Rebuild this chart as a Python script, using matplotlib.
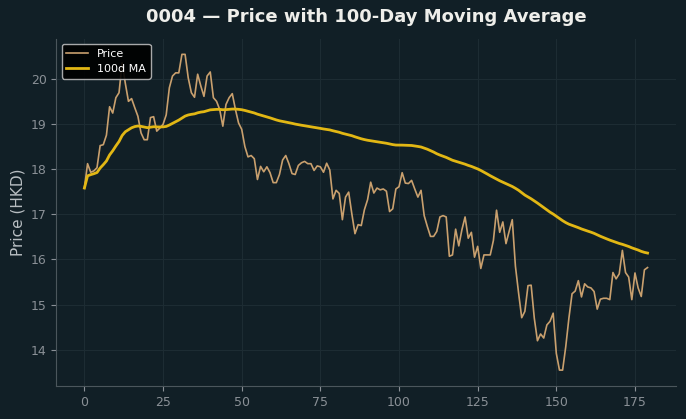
import numpy as np
import pandas as pd
import matplotlib
matplotlib.use('Agg')
import matplotlib.pyplot as plt

# daily closing price of 0004
price = [
    17.58, 18.12, 17.93, 17.96, 18.03, 18.52, 18.54, 18.75, 19.38, 19.24,
    19.58, 19.69, 20.35, 19.90, 19.50, 19.56, 19.36, 19.17, 18.80, 18.65,
    18.65, 19.14, 19.16, 18.84, 18.91, 18.99, 19.20, 19.80, 20.06, 20.13,
    20.13, 20.54, 20.54, 20.02, 19.69, 19.59, 20.10, 19.84, 19.61, 20.06,
    20.15, 19.58, 19.50, 19.32, 18.95, 19.43, 19.58, 19.67, 19.32, 19.02,
    18.88, 18.50, 18.27, 18.30, 18.23, 17.77, 18.06, 17.94, 18.05, 17.92,
    17.70, 17.70, 17.88, 18.20, 18.30, 18.12, 17.90, 17.88, 18.08, 18.14,
    18.17, 18.12, 18.12, 17.97, 18.07, 18.05, 17.93, 18.13, 17.98, 17.34,
    17.53, 17.46, 16.88, 17.38, 17.49, 17.01, 16.57, 16.77, 16.75, 17.10,
    17.32, 17.71, 17.47, 17.58, 17.54, 17.56, 17.51, 17.06, 17.12, 17.56,
    17.61, 17.92, 17.69, 17.68, 17.75, 17.56, 17.38, 17.53, 16.97, 16.73,
    16.51, 16.51, 16.62, 16.94, 16.97, 16.94, 16.07, 16.10, 16.67, 16.30,
    16.66, 16.94, 16.47, 16.60, 16.05, 16.29, 15.80, 16.10, 16.10, 16.10,
    16.42, 17.09, 16.60, 16.83, 16.35, 16.62, 16.88, 15.85, 15.26, 14.71,
    14.85, 15.42, 15.43, 14.70, 14.20, 14.35, 14.26, 14.55, 14.63, 14.81,
    13.92, 13.55, 13.55, 14.07, 14.70, 15.24, 15.30, 15.53, 15.17, 15.46,
    15.39, 15.37, 15.29, 14.90, 15.12, 15.14, 15.14, 15.11, 15.71, 15.57,
    15.68, 16.20, 15.71, 15.61, 15.11, 15.70, 15.37, 15.18, 15.77, 15.82,
]
ticker = '0004'
window = 100

s = pd.Series(price)
ma = s.rolling(window, min_periods=1).mean()

bg = '#111f26'
fig = plt.figure(figsize=(6.86, 4.19), dpi=100, facecolor=bg)
ax = fig.add_axes([0.082, 0.079, 0.903, 0.829], facecolor=bg)

ax.plot(s.index, s.values, color='#c9a06e', lw=1.2, label='Price')
ax.plot(ma.index, ma.values, color='#e2b714', lw=2.0, label=f'{window}d MA')

ax.grid(True, color='#1d2c33', lw=0.8)
ax.set_axisbelow(True)
for sp in ['top', 'right']:
    ax.spines[sp].set_visible(False)
for sp in ['left', 'bottom']:
    ax.spines[sp].set_color('#4b565c')
ax.tick_params(colors='#8a9096', labelsize=9)

ax.set_ylabel('Price (HKD)', color='#b8bec2', fontsize=11)
ax.set_title(f'{ticker} — Price with {window}-Day Moving Average',
             color='#eeeeea', fontsize=13, fontweight='bold', pad=12)

leg = ax.legend(loc='upper left', fontsize=8, facecolor='black',
                edgecolor='#bbbbbb', labelcolor='white', framealpha=0.9)

fig.savefig('out.png', dpi=100, facecolor=bg)
